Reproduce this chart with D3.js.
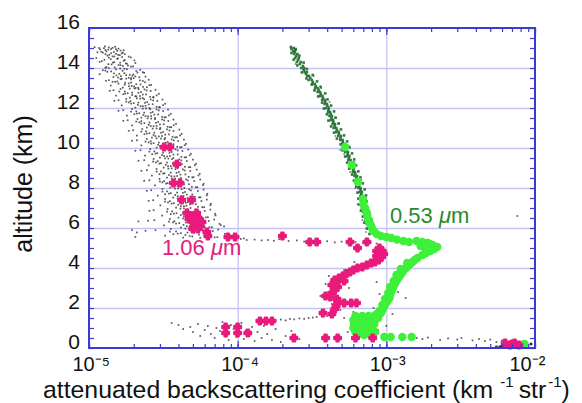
<!DOCTYPE html>
<html><head><meta charset="utf-8">
<script src="https://cdn.jsdelivr.net/npm/d3@7"></script>
<style>
body{margin:0;background:#fff;}
svg{display:block;font-family:"Liberation Sans",Arial,Helvetica,sans-serif;}
</style></head><body>
<svg id="c" width="582" height="403"></svg>
<script>
// ---------- axis ticks ----------
const yTicks = [0,2,4,6,8,10,12,14,16];
const yGrid = [2,4,6,8,10,12,14];
const xTicks = [1e-5,1e-4,1e-3,1e-2];
const xTickLabels = ["10\u207B\u2075","10\u207B\u2074","10\u207B\u00B3","10\u207B\u00B2"];
const xGrid = [1e-4,1e-3];

// ---------- 1.06 um single-shot samples [altitude km, coefficient] ----------
const shots106Upper = [
[15.08,1.28e-5],[14.71,1.52e-5],[14.93,1.19e-5],[14.64,1.61e-5],[15.01,1.44e-5],[14.83,1.31e-5],[14.97,1.58e-5],[14.77,1.24e-5],[14.89,1.71e-5],[14.66,1.37e-5],
[15.04,1.09e-5],[14.80,1.47e-5],[14.92,1.35e-5],[14.73,1.66e-5],[14.99,1.26e-5],[14.86,1.55e-5],[14.69,1.29e-5],[14.95,1.41e-5],[14.79,1.14e-5],[15.06,1.50e-5],
[14.58,1.44e-5],[14.12,1.83e-5],[14.41,1.27e-5],[14.27,1.62e-5],[14.53,1.91e-5],[14.03,1.49e-5],[14.36,1.71e-5],[14.19,1.35e-5],[14.48,1.56e-5],[14.08,1.98e-5],
[14.31,1.18e-5],[14.55,1.67e-5],[14.23,1.77e-5],[14.44,1.40e-5],[14.15,1.58e-5],[14.38,2.02e-5],[14.01,1.29e-5],[14.27,1.45e-5],[14.50,1.12e-5],[14.10,1.69e-5],
[13.97,1.62e-5],[13.58,2.05e-5],[13.83,1.41e-5],[13.66,1.88e-5],[13.91,2.21e-5],[13.52,1.57e-5],[13.74,1.73e-5],[13.87,1.29e-5],[13.61,1.96e-5],[13.79,2.30e-5],
[13.55,1.46e-5],[13.94,1.80e-5],[13.69,1.18e-5],[13.86,1.68e-5],[13.63,1.53e-5],[13.77,2.12e-5],[13.51,1.85e-5],[13.99,1.36e-5],[13.71,1.60e-5],[13.57,2.40e-5],
[13.47,1.78e-5],[13.06,2.31e-5],[13.33,1.55e-5],[13.19,2.08e-5],[13.41,2.52e-5],[13.02,1.69e-5],[13.27,1.92e-5],[13.12,1.40e-5],[13.38,2.20e-5],[13.15,2.62e-5],
[13.44,1.63e-5],[13.23,1.85e-5],[13.08,2.01e-5],[13.36,1.30e-5],[13.29,2.38e-5],[13.01,2.14e-5],[13.49,2.00e-5],[13.17,1.74e-5],[13.31,1.50e-5],[13.10,1.94e-5],
[12.98,2.02e-5],[12.56,2.58e-5],[12.83,1.74e-5],[12.67,2.30e-5],[12.91,2.80e-5],[12.52,1.88e-5],[12.76,2.15e-5],[12.62,1.52e-5],[12.88,2.44e-5],[12.71,2.95e-5],
[12.95,1.63e-5],[12.58,2.08e-5],[12.80,2.24e-5],[12.65,1.95e-5],[12.86,1.38e-5],[12.53,2.72e-5],[12.74,1.82e-5],[12.93,2.36e-5],[12.60,2.20e-5],[12.69,1.70e-5],
[12.47,2.21e-5],[12.06,2.85e-5],[12.34,1.90e-5],[12.18,2.52e-5],[12.42,3.12e-5],[12.02,2.05e-5],[12.26,2.38e-5],[12.13,1.66e-5],[12.38,2.70e-5],[12.21,3.25e-5],
[12.45,1.78e-5],[12.09,2.30e-5],[12.30,2.46e-5],[12.16,2.13e-5],[12.36,1.48e-5],[12.04,2.96e-5],[12.24,2.00e-5],[12.43,2.60e-5],[12.11,2.40e-5],[12.28,1.85e-5],
[11.98,2.42e-5],[11.56,3.10e-5],[11.83,2.08e-5],[11.67,2.75e-5],[11.92,3.40e-5],[11.52,2.25e-5],[11.76,2.60e-5],[11.62,1.80e-5],[11.88,2.95e-5],[11.71,3.55e-5],
[11.95,1.95e-5],[11.58,2.50e-5],[11.80,2.68e-5],[11.65,2.32e-5],[11.86,1.58e-5],[11.53,3.22e-5],[11.74,2.18e-5],[11.93,2.85e-5],[11.60,2.62e-5],[11.69,2.02e-5],
[11.47,2.62e-5],[11.06,3.38e-5],[11.34,2.25e-5],[11.18,3.00e-5],[11.42,3.70e-5],[11.02,2.45e-5],[11.26,2.82e-5],[11.13,1.95e-5],[11.38,3.20e-5],[11.21,3.85e-5],
[11.45,2.12e-5],[11.09,2.72e-5],[11.30,2.92e-5],[11.16,2.52e-5],[11.36,1.70e-5],[11.04,3.50e-5],[11.24,2.36e-5],[11.43,3.10e-5],[11.11,2.85e-5],[11.28,2.18e-5],
[10.98,2.85e-5],[10.56,3.65e-5],[10.83,2.42e-5],[10.67,3.25e-5],[10.92,4.05e-5],[10.52,2.65e-5],[10.76,3.05e-5],[10.62,2.10e-5],[10.88,3.48e-5],[10.71,4.20e-5],
[10.95,2.28e-5],[10.58,2.95e-5],[10.80,3.15e-5],[10.65,2.72e-5],[10.86,1.85e-5],[10.53,3.80e-5],[10.74,2.55e-5],[10.93,3.35e-5],[10.60,3.10e-5],[10.69,2.36e-5],
[10.47,3.05e-5],[10.06,3.92e-5],[10.34,2.60e-5],[10.18,3.48e-5],[10.42,4.35e-5],[10.02,2.85e-5],[10.26,3.28e-5],[10.13,2.25e-5],[10.38,3.72e-5],[10.21,4.50e-5],
[10.45,2.45e-5],[10.09,3.15e-5],[10.30,3.38e-5],[10.16,2.92e-5],[10.36,1.95e-5],[10.04,4.10e-5],[10.24,2.72e-5],[10.43,3.60e-5],[10.11,3.30e-5],[10.28,2.52e-5],
[9.98,3.22e-5],[9.56,4.18e-5],[9.83,2.75e-5],[9.67,3.70e-5],[9.92,4.65e-5],[9.52,3.00e-5],[9.76,3.48e-5],[9.62,2.38e-5],[9.88,3.95e-5],[9.71,4.85e-5],
[9.95,2.58e-5],[9.58,3.35e-5],[9.80,3.60e-5],[9.65,3.10e-5],[9.86,2.05e-5],[9.53,4.40e-5],[9.74,2.88e-5],[9.93,3.82e-5],[9.60,3.50e-5],[9.69,2.66e-5],
[9.47,3.42e-5],[9.06,4.42e-5],[9.34,2.90e-5],[9.18,3.92e-5],[9.42,5.00e-5],[9.02,3.18e-5],[9.26,3.68e-5],[9.13,2.52e-5],[9.38,4.18e-5],[9.21,5.25e-5],
[9.45,2.72e-5],[9.09,3.55e-5],[9.30,3.82e-5],[9.16,3.28e-5],[9.36,2.15e-5],[9.04,4.70e-5],[9.24,3.05e-5],[9.43,4.05e-5],[9.11,3.72e-5],[9.28,2.82e-5],
[8.98,3.60e-5],[8.56,4.68e-5],[8.83,3.05e-5],[8.67,4.12e-5],[8.92,5.30e-5],[8.52,3.35e-5],[8.76,3.88e-5],[8.62,2.65e-5],[8.88,4.40e-5],[8.71,5.55e-5],
[8.95,2.85e-5],[8.58,3.75e-5],[8.80,4.02e-5],[8.65,3.45e-5],[8.86,2.25e-5],[8.53,4.95e-5],[8.74,3.22e-5],[8.93,4.28e-5],[8.60,3.92e-5],[8.69,2.98e-5],
[8.47,3.80e-5],[8.06,4.92e-5],[8.34,3.20e-5],[8.18,4.35e-5],[8.42,5.60e-5],[8.02,3.52e-5],[8.26,4.08e-5],[8.13,2.78e-5],[8.38,4.62e-5],[8.21,5.90e-5],
[8.45,2.98e-5],[8.09,3.95e-5],[8.30,4.22e-5],[8.16,3.62e-5],[8.36,2.35e-5],[8.04,5.22e-5],[8.24,3.38e-5],[8.43,4.50e-5],[8.11,4.12e-5],[8.28,3.12e-5],
[7.98,3.98e-5],[7.56,5.15e-5],[7.83,3.35e-5],[7.67,4.55e-5],[7.92,5.90e-5],[7.52,3.68e-5],[7.76,4.28e-5],[7.62,2.90e-5],[7.88,4.85e-5],[7.71,6.25e-5],
[7.95,3.12e-5],[7.58,4.15e-5],[7.80,4.42e-5],[7.65,3.80e-5],[7.86,2.45e-5],[7.53,5.50e-5],[7.74,3.55e-5],[7.93,4.72e-5],[7.60,4.32e-5],[7.69,3.25e-5],
[7.47,4.18e-5],[7.06,5.40e-5],[7.34,3.50e-5],[7.18,4.78e-5],[7.42,6.20e-5],[7.02,3.85e-5],[7.26,4.48e-5],[7.13,3.02e-5],[7.38,5.08e-5],[7.21,6.60e-5],
[7.45,3.25e-5],[7.09,4.35e-5],[7.30,4.62e-5],[7.16,3.98e-5],[7.36,2.52e-5],[7.04,5.78e-5],[7.24,3.72e-5],[7.43,4.95e-5],[7.11,4.52e-5],[7.28,3.40e-5],
[6.98,4.35e-5],[6.56,5.70e-5],[6.83,3.62e-5],[6.67,5.00e-5],[6.92,6.55e-5],[6.52,4.00e-5],[6.76,4.68e-5],[6.62,3.10e-5],[6.88,5.32e-5],[6.71,7.05e-5],
[6.95,3.38e-5],[6.58,4.55e-5],[6.80,4.85e-5],[6.65,4.15e-5],[6.86,2.55e-5],[6.53,6.10e-5],[6.74,3.88e-5],[6.93,5.20e-5],[6.60,4.75e-5],[6.69,3.55e-5],
[6.47,4.55e-5],[6.06,6.00e-5],[6.34,3.75e-5],[6.18,5.25e-5],[6.42,6.95e-5],[6.02,4.15e-5],[6.26,4.90e-5],[6.13,3.20e-5],[6.38,5.58e-5],[6.21,7.55e-5],
[6.45,3.50e-5],[6.09,4.75e-5],[6.30,5.08e-5],[6.16,4.32e-5],[6.36,2.50e-5],[6.04,6.45e-5],[6.24,4.05e-5],[6.43,5.45e-5],[6.11,4.95e-5],[6.28,3.68e-5],
[6.33,2.15e-5],[6.08,8.10e-5],
[5.97,4.70e-5],[5.56,6.40e-5],[5.83,3.85e-5],[5.67,5.50e-5],[5.92,7.40e-5],[5.52,4.30e-5],[5.76,5.10e-5],[5.62,3.25e-5],[5.88,5.85e-5],[5.71,8.20e-5],
[5.95,3.55e-5],[5.58,4.95e-5],[5.80,5.30e-5],[5.65,4.45e-5],[5.86,2.40e-5],[5.53,7.00e-5],[5.74,4.15e-5],[5.93,5.70e-5],[5.60,9.10e-5],[5.69,3.70e-5],
[5.78,2.10e-5],[5.55,2.05e-5],[5.90,1.95e-5],[5.50,9.60e-5]
];
const shots106Upper2 = [
[15.03,1.36e-5],[14.58,1.48e-5],[14.81,1.21e-5],[14.69,1.74e-5],[14.94,1.52e-5],[14.62,1.33e-5],[14.87,1.63e-5],[14.74,1.41e-5],[15.00,1.17e-5],[14.66,1.57e-5],[14.90,1.29e-5],[14.77,1.69e-5],
[14.46,1.55e-5],[14.07,1.92e-5],[14.34,1.22e-5],[14.21,1.80e-5],[14.52,1.36e-5],[14.14,1.63e-5],[14.40,1.74e-5],[14.29,1.48e-5],[14.05,1.31e-5],[14.57,1.85e-5],[14.18,1.42e-5],[14.25,2.05e-5],
[13.93,1.52e-5],[13.54,2.18e-5],[13.81,1.33e-5],[13.68,1.99e-5],[13.96,1.73e-5],[13.59,1.64e-5],[13.85,2.08e-5],[13.73,1.47e-5],[13.50,1.92e-5],[13.89,1.24e-5],[13.64,1.78e-5],[13.76,2.35e-5],
[13.43,1.92e-5],[13.04,2.45e-5],[13.31,1.44e-5],[13.18,2.22e-5],[13.46,1.66e-5],[13.09,1.86e-5],[13.35,2.30e-5],[13.22,1.58e-5],[13.00,2.06e-5],[13.39,1.36e-5],[13.14,2.55e-5],[13.26,1.75e-5],
[12.94,2.16e-5],[12.54,2.70e-5],[12.82,1.60e-5],[12.68,2.42e-5],[12.97,1.88e-5],[12.59,2.05e-5],[12.85,2.60e-5],[12.72,1.75e-5],[12.50,2.30e-5],[12.89,1.46e-5],[12.63,2.85e-5],[12.77,1.95e-5],
[12.44,2.35e-5],[12.04,3.00e-5],[12.32,1.78e-5],[12.19,2.68e-5],[12.48,2.10e-5],[12.09,2.22e-5],[12.35,2.88e-5],[12.22,1.92e-5],[12.00,2.55e-5],[12.39,1.58e-5],[12.14,3.15e-5],[12.27,2.15e-5],
[11.94,2.58e-5],[11.54,3.28e-5],[11.82,1.92e-5],[11.68,2.92e-5],[11.97,2.30e-5],[11.59,2.40e-5],[11.85,3.15e-5],[11.72,2.10e-5],[11.50,2.78e-5],[11.89,1.70e-5],[11.63,3.45e-5],[11.77,2.35e-5],
[11.44,2.78e-5],[11.04,3.58e-5],[11.32,2.08e-5],[11.19,3.18e-5],[11.48,2.48e-5],[11.09,2.60e-5],[11.35,3.42e-5],[11.22,2.25e-5],[11.00,3.02e-5],[11.39,1.82e-5],[11.14,3.72e-5],[11.27,2.55e-5],
[10.94,3.00e-5],[10.54,3.90e-5],[10.82,2.25e-5],[10.68,3.45e-5],[10.97,2.68e-5],[10.59,2.80e-5],[10.85,3.70e-5],[10.72,2.45e-5],[10.50,3.25e-5],[10.89,1.98e-5],[10.63,4.10e-5],[10.77,2.75e-5],
[10.44,3.22e-5],[10.04,4.20e-5],[10.32,2.40e-5],[10.19,3.70e-5],[10.48,2.85e-5],[10.09,3.00e-5],[10.35,3.98e-5],[10.22,2.62e-5],[10.00,3.48e-5],[10.39,2.10e-5],[10.14,4.40e-5],[10.27,2.95e-5],
[9.94,3.40e-5],[9.54,4.50e-5],[9.82,2.55e-5],[9.68,3.95e-5],[9.97,3.05e-5],[9.59,3.20e-5],[9.85,4.25e-5],[9.72,2.80e-5],[9.50,3.70e-5],[9.89,2.22e-5],[9.63,4.75e-5],[9.77,3.15e-5],
[9.44,3.62e-5],[9.04,4.80e-5],[9.32,2.70e-5],[9.19,4.22e-5],[9.48,3.25e-5],[9.09,3.40e-5],[9.35,4.55e-5],[9.22,2.98e-5],[9.00,3.95e-5],[9.39,2.35e-5],[9.14,5.15e-5],[9.27,3.35e-5],
[8.94,3.82e-5],[8.54,5.05e-5],[8.82,2.85e-5],[8.68,4.45e-5],[8.97,3.42e-5],[8.59,3.58e-5],[8.85,4.80e-5],[8.72,3.15e-5],[8.50,4.15e-5],[8.89,2.45e-5],[8.63,5.45e-5],[8.77,3.55e-5],
[8.44,4.02e-5],[8.04,5.35e-5],[8.32,3.00e-5],[8.19,4.70e-5],[8.48,3.60e-5],[8.09,3.78e-5],[8.35,5.10e-5],[8.22,3.30e-5],[8.00,4.38e-5],[8.39,2.55e-5],[8.14,5.85e-5],[8.27,3.75e-5],
[7.94,4.20e-5],[7.54,5.62e-5],[7.82,3.12e-5],[7.68,4.95e-5],[7.97,3.78e-5],[7.59,3.95e-5],[7.85,5.40e-5],[7.72,3.45e-5],[7.50,4.60e-5],[7.89,2.62e-5],[7.63,6.20e-5],[7.77,3.92e-5],
[7.44,4.40e-5],[7.04,5.95e-5],[7.32,3.25e-5],[7.19,5.22e-5],[7.48,3.95e-5],[7.09,4.15e-5],[7.35,5.70e-5],[7.22,3.60e-5],[7.00,4.82e-5],[7.39,2.70e-5],[7.14,6.55e-5],[7.27,4.10e-5],
[6.94,4.60e-5],[6.54,6.30e-5],[6.82,3.35e-5],[6.68,5.50e-5],[6.97,4.12e-5],[6.59,4.35e-5],[6.85,6.00e-5],[6.72,3.72e-5],[6.50,5.05e-5],[6.89,2.72e-5],[6.63,7.10e-5],[6.77,4.28e-5],
[6.44,4.80e-5],[6.04,6.70e-5],[6.32,3.45e-5],[6.19,5.85e-5],[6.48,4.30e-5],[6.09,4.55e-5],[6.35,6.40e-5],[6.22,3.85e-5],[6.00,5.30e-5],[6.39,2.75e-5],[6.14,7.70e-5],[6.27,4.48e-5],
[5.94,5.00e-5],[5.54,7.30e-5],[5.82,3.50e-5],[5.68,6.20e-5],[5.97,4.45e-5],[5.59,4.75e-5],[5.85,6.80e-5],[5.72,3.95e-5],[5.51,5.60e-5],[5.89,2.80e-5],[5.64,8.60e-5],[5.77,4.60e-5]
];
const shots106Layer = [
[5.45,1.05e-4],[5.40,1.15e-4],[5.42,1.30e-4],[5.38,1.45e-4],[5.40,1.60e-4],[5.36,1.75e-4],[5.44,1.90e-4],[5.35,2.20e-4],
[5.38,2.50e-4],[5.32,2.80e-4],[5.36,3.10e-4],[5.30,3.60e-4],[5.34,4.00e-4],[5.28,4.50e-4],[5.32,5.00e-4],[5.26,5.50e-4],
[5.30,6.20e-4],[5.25,7.00e-4],[5.28,7.80e-4],[5.22,8.60e-4],[5.50,1.00e-4],[5.48,1.10e-4]
];
const shots106Low = [
[1.25,3.6e-5],[1.15,4.0e-5],[0.95,4.3e-5],[1.05,4.8e-5],[0.80,5.0e-5],[1.20,5.4e-5],[0.60,5.6e-5],[0.90,6.0e-5],
[1.10,6.3e-5],[0.70,6.6e-5],[0.50,7.0e-5],[1.00,7.2e-5],[0.85,7.6e-5],[1.30,7.9e-5],[0.65,8.3e-5],[0.40,8.7e-5],
[1.15,9.0e-5],[0.95,9.4e-5],[0.55,9.8e-5],[0.75,1.02e-4],[1.25,1.06e-4],[0.45,1.10e-4],[0.90,1.14e-4],[0.60,1.20e-4],
[1.05,1.25e-4],[0.35,1.30e-4],[0.80,1.36e-4],[0.50,1.45e-4],[1.10,1.50e-4],[0.70,1.58e-4],[0.40,1.70e-4],[0.95,1.80e-4],
[0.30,1.95e-4],[0.60,2.10e-4],[0.85,2.30e-4],[0.45,2.60e-4],
[1.40,1.80e-4],[1.42,1.95e-4],[1.38,2.10e-4],[1.45,2.25e-4],[1.43,2.40e-4],[1.48,2.60e-4],[1.46,2.80e-4],[1.50,3.00e-4],
[1.52,3.20e-4],[1.55,3.40e-4],[1.57,3.70e-4],[1.60,4.00e-4],[1.63,4.30e-4],
[3.6,4.1e-4],[3.2,3.9e-4],[2.9,4.6e-4],[2.6,3.6e-4],[3.9,5.2e-4],[2.2,4.3e-4],[1.9,4.9e-4],[3.0,5.6e-4],
[2.4,5.1e-4],[4.3,6.1e-4],[1.8,6.0e-4],[1.4,6.3e-4],[1.2,5.8e-4],[1.0,6.6e-4],[0.8,5.5e-4],[1.6,7.2e-4],
[2.0,8.2e-4],[2.7,9.0e-4],[3.3,8.6e-4],[2.3,1.02e-3],[1.7,1.10e-3],[1.1,1.00e-3],[0.9,8.8e-4],[3.8,1.15e-3],
[2.8,1.20e-3],[2.5,1.35e-3],[1.3,8.0e-4],[4.8,9.6e-4],[0.7,7.5e-4],[1.5,5.2e-4],
[0.50,1.60e-3],[0.45,1.75e-3],[0.52,1.90e-3],[0.40,2.30e-3],[0.48,2.60e-3],[0.42,3.00e-3],[0.50,3.20e-3],[0.38,3.80e-3],
[0.45,4.20e-3],[0.35,4.60e-3],[0.42,5.00e-3],[0.30,5.50e-3],[0.38,6.00e-3],[6.6,7.6e-3]
];
const shotsSurface = [
[0.05,5.5e-3],[0.08,6.0e-3],[0.10,6.6e-3],[0.12,7.2e-3],[0.15,8.0e-3],[0.18,8.8e-3],[0.20,9.4e-3],[0.06,5.8e-3],[0.14,7.6e-3]
];

// ---------- 0.53 um single-shot samples ----------
const shots053 = [
[15.05,2.28e-4],[15.00,2.38e-4],[14.95,2.30e-4],[14.90,2.45e-4],[14.85,2.36e-4],[14.80,2.42e-4],
[14.70,2.52e-4],[14.70,2.40e-4],[14.60,2.48e-4],[14.50,2.58e-4],[14.50,2.44e-4],[14.40,2.55e-4],[14.30,2.66e-4],[14.30,2.50e-4],
[14.20,2.62e-4],[14.10,2.75e-4],[14.00,2.68e-4],[14.00,2.80e-4],
[13.90,2.78e-4],[13.80,2.92e-4],[13.80,2.82e-4],[13.70,2.88e-4],[13.60,3.02e-4],[13.60,2.94e-4],[13.50,3.08e-4],[13.40,3.15e-4],
[13.40,3.00e-4],[13.30,3.20e-4],[13.20,3.30e-4],[13.20,3.18e-4],[13.10,3.35e-4],[13.00,3.45e-4],[13.00,3.32e-4],
[12.90,3.50e-4],[12.80,3.58e-4],[12.80,3.45e-4],[12.70,3.62e-4],[12.60,3.72e-4],[12.60,3.58e-4],[12.50,3.75e-4],[12.40,3.85e-4],
[12.40,3.70e-4],[12.30,3.88e-4],[12.20,3.98e-4],[12.20,3.84e-4],[12.10,4.02e-4],[12.00,4.10e-4],[12.00,3.92e-4],
[11.90,4.08e-4],[11.80,4.18e-4],[11.80,4.05e-4],[11.70,4.22e-4],[11.60,4.30e-4],[11.60,4.15e-4],[11.50,4.28e-4],[11.40,4.38e-4],
[11.40,4.22e-4],[11.30,4.40e-4],[11.20,4.52e-4],[11.20,4.35e-4],[11.10,4.50e-4],[11.00,4.60e-4],[11.00,4.42e-4],
[10.90,4.65e-4],[10.80,4.78e-4],[10.80,4.60e-4],[10.70,4.80e-4],[10.60,4.95e-4],[10.60,4.75e-4],[10.50,4.92e-4],[10.40,5.08e-4],
[10.40,4.90e-4],[10.30,5.10e-4],[10.20,5.25e-4],[10.20,5.05e-4],[10.10,5.25e-4],[10.00,5.40e-4],[10.00,5.20e-4],
[9.90,5.38e-4],[9.80,5.52e-4],[9.80,5.30e-4],[9.70,5.50e-4],[9.60,5.65e-4],[9.60,5.45e-4],[9.50,5.60e-4],[9.40,5.75e-4],
[9.40,5.55e-4],[9.30,5.78e-4],[9.20,5.90e-4],[9.20,5.70e-4],[9.10,5.88e-4],[9.00,6.05e-4],[9.00,5.80e-4],
[8.90,6.00e-4],[8.80,6.15e-4],[8.80,5.95e-4],[8.70,6.18e-4],[8.60,6.35e-4],[8.60,6.10e-4],[8.50,6.30e-4],[8.40,6.45e-4],
[8.40,6.25e-4],[8.30,6.42e-4],[8.20,6.60e-4],[8.20,6.38e-4],[8.10,6.55e-4],[8.00,6.70e-4],[8.00,6.50e-4],
[7.90,6.72e-4],[7.80,6.85e-4],[7.80,6.60e-4],[7.70,6.78e-4],[7.60,6.95e-4],[7.60,6.70e-4],[7.50,6.82e-4],[7.40,7.00e-4],
[7.40,6.75e-4],[7.30,6.90e-4],[7.20,7.05e-4],[7.20,6.80e-4],[7.10,6.95e-4],[7.00,7.10e-4],[7.00,6.85e-4],
[6.90,7.05e-4],[6.80,7.25e-4],[6.80,7.00e-4],[6.70,7.20e-4],[6.60,7.40e-4],[6.60,7.10e-4],[6.50,7.35e-4],[6.40,7.55e-4],
[6.40,7.25e-4],[6.30,7.50e-4],[6.20,7.70e-4],[6.20,7.40e-4],[6.10,7.65e-4],[6.00,7.85e-4],[6.00,7.55e-4],
[14.95,2.45e-4],[14.75,2.30e-4],[14.62,2.60e-4],[14.42,2.38e-4],[14.27,2.78e-4],[14.13,2.52e-4],[13.95,2.92e-4],[13.78,2.70e-4],
[13.65,3.20e-4],[13.48,2.90e-4],[13.33,3.42e-4],[13.17,3.15e-4],[13.03,3.62e-4],[12.88,3.28e-4],[12.73,3.88e-4],[12.58,3.48e-4],
[12.43,4.02e-4],[12.27,3.70e-4],[12.12,4.25e-4],[11.97,3.80e-4],[11.83,4.45e-4],[11.68,4.00e-4],[11.52,4.55e-4],[11.37,4.08e-4],
[11.23,4.78e-4],[11.08,4.25e-4],[10.93,4.95e-4],[10.77,4.45e-4],[10.63,5.20e-4],[10.47,4.65e-4],[10.33,5.45e-4],[10.18,4.92e-4],
[10.03,5.65e-4],[9.88,5.08e-4],[9.73,5.88e-4],[9.57,5.28e-4],[9.43,6.08e-4],[9.27,5.45e-4],[9.13,6.25e-4],[8.97,5.62e-4],
[8.83,6.48e-4],[8.67,5.88e-4],[8.53,6.70e-4],[8.37,6.05e-4],[8.23,6.95e-4],[8.07,6.28e-4],[7.93,7.15e-4],[7.77,6.40e-4],
[7.63,7.30e-4],[7.47,6.48e-4],[7.33,7.35e-4],[7.17,6.55e-4],[7.03,7.45e-4],[6.87,6.75e-4],[6.73,7.70e-4],[6.57,6.95e-4],
[6.43,7.95e-4],[6.27,7.10e-4],[6.13,8.20e-4],[5.97,7.40e-4],[5.82,8.30e-4],[5.70,7.70e-4]
];
const shots053Spread = [
[14.2,2.45e-4],[13.6,3.25e-4],[12.9,3.30e-4],[12.3,4.15e-4],[11.7,3.95e-4],[11.2,4.75e-4],[10.6,4.55e-4],[10.1,5.60e-4],
[9.7,5.20e-4],[9.3,6.10e-4],[8.8,5.70e-4],[8.4,6.80e-4],[8.0,6.20e-4],[7.6,7.30e-4],[7.2,6.40e-4],[6.8,7.70e-4],
[6.4,6.90e-4],[6.0,8.30e-4],[5.8,7.30e-4],[9.9,4.90e-4],[13.1,3.60e-4],[11.5,4.60e-4]
];

// ---------- averaged profiles (large markers) ----------
const profile053 = [
[10.05,5.27e-4],[9.15,5.87e-4],[8.30,6.44e-4],[7.45,6.96e-4],[7.20,7.0e-4],[7.00,7.2e-4],[6.80,7.35e-4],[6.60,7.45e-4],
[6.40,7.6e-4],[6.20,7.8e-4],[6.00,8.0e-4],[5.85,8.2e-4],[5.70,8.6e-4],[5.60,9.2e-4],[5.55,1.0e-3],[5.50,1.08e-3],
[5.42,1.18e-3],[5.35,1.30e-3],[5.30,1.42e-3],[5.35,1.60e-3],[5.30,1.75e-3],[5.25,1.90e-3],[5.15,2.05e-3],[5.05,2.20e-3],
[4.95,2.10e-3],[4.85,1.98e-3],[4.75,1.85e-3],[4.65,1.75e-3],[5.20,1.95e-3],[5.00,1.95e-3],[4.90,1.85e-3],[5.10,1.70e-3],
[4.50,1.62e-3],[4.40,1.55e-3],[4.30,1.50e-3],[4.20,1.45e-3],[4.10,1.40e-3],[4.00,1.36e-3],[3.85,1.30e-3],[3.70,1.26e-3],
[3.55,1.22e-3],[3.40,1.18e-3],[3.25,1.15e-3],[3.10,1.12e-3],[2.95,1.10e-3],[2.80,1.08e-3],[2.65,1.06e-3],[2.50,1.05e-3],
[2.35,1.02e-3],[2.20,9.9e-4],[2.05,9.6e-4],[1.90,9.4e-4],[1.75,9.2e-4],
[4.25,1.38e-3],[3.95,1.25e-3],[3.65,1.17e-3],[3.35,1.12e-3],[3.05,1.06e-3],[2.75,1.03e-3],[2.45,9.8e-4],[2.15,9.4e-4],[1.85,9.0e-4],
[1.60,6.2e-4],[1.60,6.9e-4],[1.60,7.6e-4],[1.60,8.3e-4],[1.40,6.0e-4],[1.40,6.6e-4],[1.40,7.3e-4],[1.40,8.0e-4],
[1.20,6.1e-4],[1.20,6.8e-4],[1.20,7.5e-4],[1.20,8.3e-4],[1.00,6.0e-4],[1.00,6.6e-4],[1.00,7.2e-4],[1.00,7.9e-4],
[0.80,6.2e-4],[0.80,6.9e-4],[0.80,7.6e-4],[0.80,8.4e-4],[0.65,6.4e-4],[0.65,7.1e-4],[0.65,7.9e-4],[1.70,8.6e-4],[1.50,8.8e-4],
[0.55,9.7e-4],[0.55,1.07e-3],[0.55,1.28e-3],[0.55,1.48e-3],[0.20,8.5e-3],[0.15,8.2e-3]
];
const profile106 = [
[10.05,3.2e-5],[10.05,3.5e-5],[9.20,3.9e-5],[8.25,3.7e-5],[8.25,4.1e-5],[7.40,4.2e-5],[7.40,4.9e-5],
[6.75,4.56e-5],[6.75,5.3e-5],[6.60,4.9e-5],[6.45,4.7e-5],[6.45,5.5e-5],[6.30,5.0e-5],[6.30,5.75e-5],[6.10,5.1e-5],
[6.10,5.6e-5],[5.95,5.0e-5],[5.95,5.4e-5],[5.80,6.2e-5],[5.60,6.3e-5],[5.55,8.6e-5],[5.55,9.6e-5],[5.60,2.0e-4],
[5.30,3.05e-4],[5.30,3.4e-4],[5.30,5.7e-4],[5.00,6.4e-4],[5.30,7.4e-4],
[5.00,9.0e-4],[4.85,9.4e-4],[4.70,9.6e-4],[4.55,9.3e-4],[4.40,8.9e-4],[4.85,8.6e-4],[4.60,8.6e-4],
[4.30,8.4e-4],[4.25,7.9e-4],[4.15,7.4e-4],[4.05,6.9e-4],[4.00,6.4e-4],[3.90,6.0e-4],[3.80,5.7e-4],[3.72,5.4e-4],
[3.60,5.1e-4],[3.50,4.8e-4],[3.40,4.5e-4],[3.35,5.2e-4],[3.25,4.6e-4],[3.15,4.3e-4],[3.05,4.7e-4],[2.90,4.5e-4],
[2.75,4.3e-4],[2.60,3.9e-4],[2.55,4.2e-4],[2.45,4.65e-4],[2.30,4.7e-4],[2.25,5.2e-4],[2.25,5.8e-4],[2.25,6.3e-4],
[2.10,4.6e-4],[1.95,4.5e-4],[1.75,3.75e-4],[1.70,4.3e-4],
[1.35,1.41e-4],[1.35,1.55e-4],[1.35,1.7e-4],[1.05,8.3e-5],[0.75,8.3e-5],[1.05,1.0e-4],[0.75,1.0e-4],[0.75,1.17e-4],
[0.50,2.39e-4],[0.50,3.9e-4],[0.50,4.7e-4],[0.50,6.2e-4],[0.50,8.1e-4],
[0.25,6.3e-3],[0.15,6.8e-3],[0.25,7.3e-3],[0.15,7.8e-3],[0.20,7.0e-3]
];

// ---------- drawing ----------
const svg = d3.select('#c');
const x = d3.scaleLog().domain([1e-5,1e-2]).range([89,535]);
const y = d3.scaleLinear().domain([0,16]).range([348,28]);
const frameCol = '#3a3ad4', gridCol = '#c2c2f4';
const pw = 446, ph = 320;
const font = 'Liberation Sans, Arial, sans-serif';

// grid
svg.append('g').attr('transform','translate(89,0)')
  .call(d3.axisLeft(y).tickValues(yGrid).tickSize(-pw).tickFormat(''))
  .call(g=>{g.select('.domain').remove(); g.selectAll('line').attr('stroke',gridCol).attr('stroke-width',1.3);});
svg.append('g').attr('transform','translate(0,348)')
  .call(d3.axisBottom(x).tickValues(xGrid).tickSize(-ph).tickFormat(''))
  .call(g=>{g.select('.domain').remove(); g.selectAll('line').attr('stroke',gridCol).attr('stroke-width',1.3);});

// single-shot dots
function dots(data, col, s, op){
  svg.append('g').selectAll('rect').data(data).join('rect')
    .attr('x', d=>x(d[1])-s/2).attr('y', d=>y(d[0])-s/2)
    .attr('width', s).attr('height', s).attr('fill', col).attr('opacity', op);
}
dots(shots106Upper, '#222', 1.7, 0.75);
dots(shots106Upper2, '#222', 1.7, 0.75);
dots(shots106Layer, '#222', 1.7, 0.75);
dots(shots106Low, '#222', 1.7, 0.75);
dots(shots053Spread, '#444', 1.6, 0.7);
dots(shots053, '#1e6b2c', 2.6, 0.9);
dots(shotsSurface, '#111', 2.6, 0.9);

// averaged profile markers
svg.append('g').selectAll('circle').data(profile053).join('circle')
  .attr('cx', d=>x(d[1])).attr('cy', d=>y(d[0])).attr('r', 4.2).attr('fill', '#3ef03a');
const cross = d3.symbol().type(d3.symbolCross).size(24);
svg.append('g').selectAll('path').data(profile106).join('path')
  .attr('transform', d=>`translate(${x(d[1])},${y(d[0])})`).attr('d', cross)
  .attr('fill', '#ea1a7c').attr('stroke', '#ea1a7c').attr('stroke-width', 2.4).attr('stroke-linejoin','round');

// ticks
function tickAxis(axis, tr, vals, size){
  svg.append('g').attr('transform', tr)
    .call(axis.tickValues(vals).tickSize(size).tickFormat(''))
    .call(g=>{g.select('.domain').remove(); g.selectAll('line').attr('stroke',frameCol).attr('stroke-width',1.2);});
}
const yMinor = y.ticks(32);
const xMinor = x.ticks();
tickAxis(d3.axisLeft(y), 'translate(89,0)', yMinor, -5);
tickAxis(d3.axisRight(y), 'translate(535,0)', yMinor, -5);
tickAxis(d3.axisBottom(x), 'translate(0,348)', xMinor, -4);
tickAxis(d3.axisTop(x), 'translate(0,28)', xMinor, -4);
tickAxis(d3.axisBottom(x), 'translate(0,348)', xTicks, -7);
tickAxis(d3.axisTop(x), 'translate(0,28)', xTicks, -7);

// frame
svg.append('rect').attr('x',89).attr('y',28).attr('width',pw).attr('height',ph)
  .attr('fill','none').attr('stroke',frameCol).attr('stroke-width',2);

// y labels
svg.append('g').attr('transform','translate(89,0)')
  .call(d3.axisLeft(y).tickValues(yTicks).tickSize(0).tickPadding(9))
  .call(g=>{g.select('.domain').remove();
    g.selectAll('text').attr('font-size',21).attr('font-family',font)
     .attr('fill','#111').attr('dy','0.32em').attr('y',-6.5);});

// x labels (single text each, with superscript exponent characters)
svg.append('g').attr('transform','translate(0,348)')
  .call(d3.axisBottom(x).tickValues(xTicks).tickSize(0).tickFormat((d,i)=>xTickLabels[i]))
  .call(g=>{g.select('.domain').remove();
    g.selectAll('text').attr('text-anchor','start').attr('x',(d,i)=> i===3 ? -26 : -17).attr('y',23).attr('dy',0)
      .attr('fill','#111').attr('font-size',20).attr('font-family',font);});

// axis titles
const xt = svg.append('text').attr('x',43).attr('y',397.7).attr('font-size',24.8).attr('fill','#111');
xt.append('tspan').text('attenuated backscattering coefficient (km');
xt.append('tspan').attr('dy',-11).attr('dx',7).attr('font-size',15).text('-1');
xt.append('tspan').attr('dy',11).attr('dx',5).text('str');
xt.append('tspan').attr('dy',-11).attr('dx',2).attr('font-size',15).text('-1');
xt.append('tspan').attr('dy',11).text(')');

svg.append('text').attr('transform','translate(32,184) rotate(-90)')
  .attr('text-anchor','middle').attr('font-size',25).attr('fill','#111').text('altitude (km)');

// series labels
const l1 = svg.append('text').attr('x',390).attr('y',223).attr('font-size',22).attr('fill','#2a8a2a');
l1.append('tspan').text('0.53 ');
l1.append('tspan').attr('font-style','italic').text('μ');
l1.append('tspan').text('m');
const l2 = svg.append('text').attr('x',162).attr('y',255).attr('font-size',22).attr('fill','#e0207a');
l2.append('tspan').text('1.06 ');
l2.append('tspan').attr('font-style','italic').text('μ');
l2.append('tspan').text('m');
</script>
</body></html>
